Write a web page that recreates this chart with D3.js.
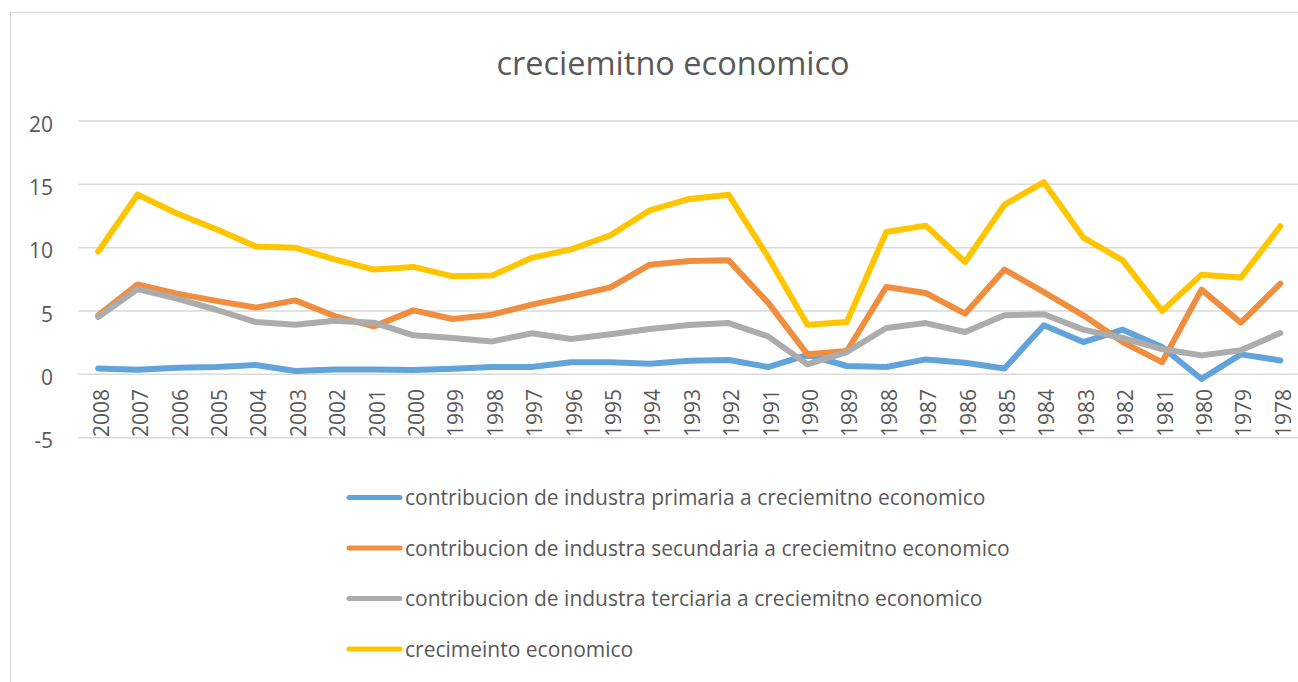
<!DOCTYPE html>
<html>
<head>
<meta charset="utf-8">
<title>creciemitno economico</title>
<script src="https://cdn.jsdelivr.net/npm/d3@7"></script>
<style>
  html, body { margin: 0; padding: 0; background: #fff; }
  svg { display: block; font-family: 'Open Sans', sans-serif; }
</style>
</head>
<body>
<svg id="chart" width="1298" height="682"></svg>
<script>
'use strict';

// Years run backwards, as in the source sheet.
var years = ['2008', '2007', '2006', '2005', '2004', '2003', '2002', '2001', '2000', '1999',
  '1998', '1997', '1996', '1995', '1994', '1993', '1992', '1991', '1990', '1989',
  '1988', '1987', '1986', '1985', '1984', '1983', '1982', '1981', '1980', '1979', '1978'];

var primaria = [0.47, 0.37, 0.53, 0.58, 0.74, 0.26, 0.39, 0.39, 0.34, 0.45,
  0.58, 0.58, 0.95, 0.95, 0.84, 1.08, 1.13, 0.58, 1.53, 0.66,
  0.58, 1.18, 0.92, 0.47, 3.87, 2.55, 3.53, 2.16, -0.37, 1.58, 1.1];

var secundaria = [4.66, 7.1, 6.37, 5.8, 5.27, 5.84, 4.6, 3.79, 5.05, 4.37,
  4.71, 5.5, 6.16, 6.87, 8.66, 8.95, 9.0, 5.66, 1.58, 1.84,
  6.9, 6.42, 4.79, 8.27, 6.5, 4.66, 2.55, 0.97, 6.69, 4.08, 7.16];

var terciaria = [4.53, 6.74, 5.98, 5.1, 4.13, 3.92, 4.24, 4.08, 3.08, 2.87,
  2.6, 3.24, 2.79, 3.16, 3.58, 3.9, 4.05, 3.0, 0.79, 1.76,
  3.66, 4.05, 3.34, 4.66, 4.74, 3.53, 2.87, 2.0, 1.5, 1.9, 3.26];

var crecimiento = [9.7, 14.2, 12.7, 11.45, 10.1, 10.0, 9.08, 8.27, 8.48, 7.74,
  7.8, 9.2, 9.87, 10.98, 12.95, 13.85, 14.17, 9.27, 3.92, 4.13,
  11.24, 11.74, 8.87, 13.4, 15.17, 10.8, 9.0, 5.0, 7.87, 7.64, 11.69];

var seriesNames = [
  'contribucion de industra primaria a creciemitno economico',
  'contribucion de industra secundaria a creciemitno economico',
  'contribucion de industra terciaria a creciemitno economico',
  'crecimeinto economico'
];
var seriesColors = ['#62a3da', '#f08e3f', '#acacac', '#ffc600'];
var yTicks = [-5, 0, 5, 10, 15, 20];
var chartTitle = 'creciemitno economico';

var series = [primaria, secundaria, terciaria, crecimiento];

var svg = d3.select('#chart');
var textColor = '#595959';
var gridColor = '#d9d9d9';
var labelSize = '21px';

svg.append('rect')
  .attr('width', 1298).attr('height', 682).attr('fill', '#fff');

// chart area border, runs off the right and bottom of the shot
svg.append('rect')
  .attr('x', 10.5).attr('y', 12.5)
  .attr('width', 1320).attr('height', 700)
  .attr('fill', 'none').attr('stroke', gridColor).attr('stroke-width', 1.2);

svg.append('text')
  .attr('x', 673).attr('y', 74.5)
  .attr('text-anchor', 'middle')
  .attr('font-size', '32.5px')
  .attr('fill', textColor)
  .text(chartTitle);

var x = d3.scalePoint().domain(years).range([78.5, 1300]).padding(0.5);
var y = d3.scaleLinear().domain([-5, 20]).range([437.7, 121]);

// gridlines + y labels
var yAxis = svg.append('g').attr('class', 'y-axis');
yTicks.forEach(function (t) {
  yAxis.append('line')
    .attr('x1', 78.5).attr('x2', 1300)
    .attr('y1', y(t)).attr('y2', y(t))
    .attr('stroke', gridColor).attr('stroke-width', 1.5);
  yAxis.append('text')
    .attr('x', 53).attr('y', y(t) + 10.5)
    .attr('text-anchor', 'end')
    .attr('font-size', labelSize)
    .attr('fill', textColor)
    .text(t);
});

// category labels, rotated, hanging below the zero line
var xAxis = svg.append('g').attr('class', 'x-axis');
years.forEach(function (yr) {
  xAxis.append('text')
    .attr('transform', 'translate(' + x(yr) + ',389) rotate(-90)')
    .attr('text-anchor', 'end')
    .attr('dy', 10.5)
    .attr('font-size', labelSize)
    .attr('fill', textColor)
    .text(yr);
});

var line = d3.line()
  .x(function (d, i) { return x(years[i]); })
  .y(function (d) { return y(d); });

svg.append('g').attr('class', 'lines')
  .selectAll('path')
  .data(series)
  .enter().append('path')
  .attr('d', line)
  .attr('fill', 'none')
  .attr('stroke', function (d, i) { return seriesColors[i]; })
  .attr('stroke-width', 6)
  .attr('stroke-linejoin', 'round')
  .attr('stroke-linecap', 'round');

// legend, one entry per row
var legend = svg.append('g').attr('class', 'legend');
var legendRows = [497.5, 548, 598.5, 649];
seriesNames.forEach(function (name, i) {
  var row = legend.append('g').attr('transform', 'translate(0,' + legendRows[i] + ')');
  row.append('line')
    .attr('x1', 349).attr('x2', 400)
    .attr('stroke', seriesColors[i])
    .attr('stroke-width', 5)
    .attr('stroke-linecap', 'round');
  row.append('text')
    .attr('x', 405).attr('y', 7.5)
    .attr('font-size', labelSize)
    .attr('fill', textColor)
    .text(name);
});
</script>
</body>
</html>
